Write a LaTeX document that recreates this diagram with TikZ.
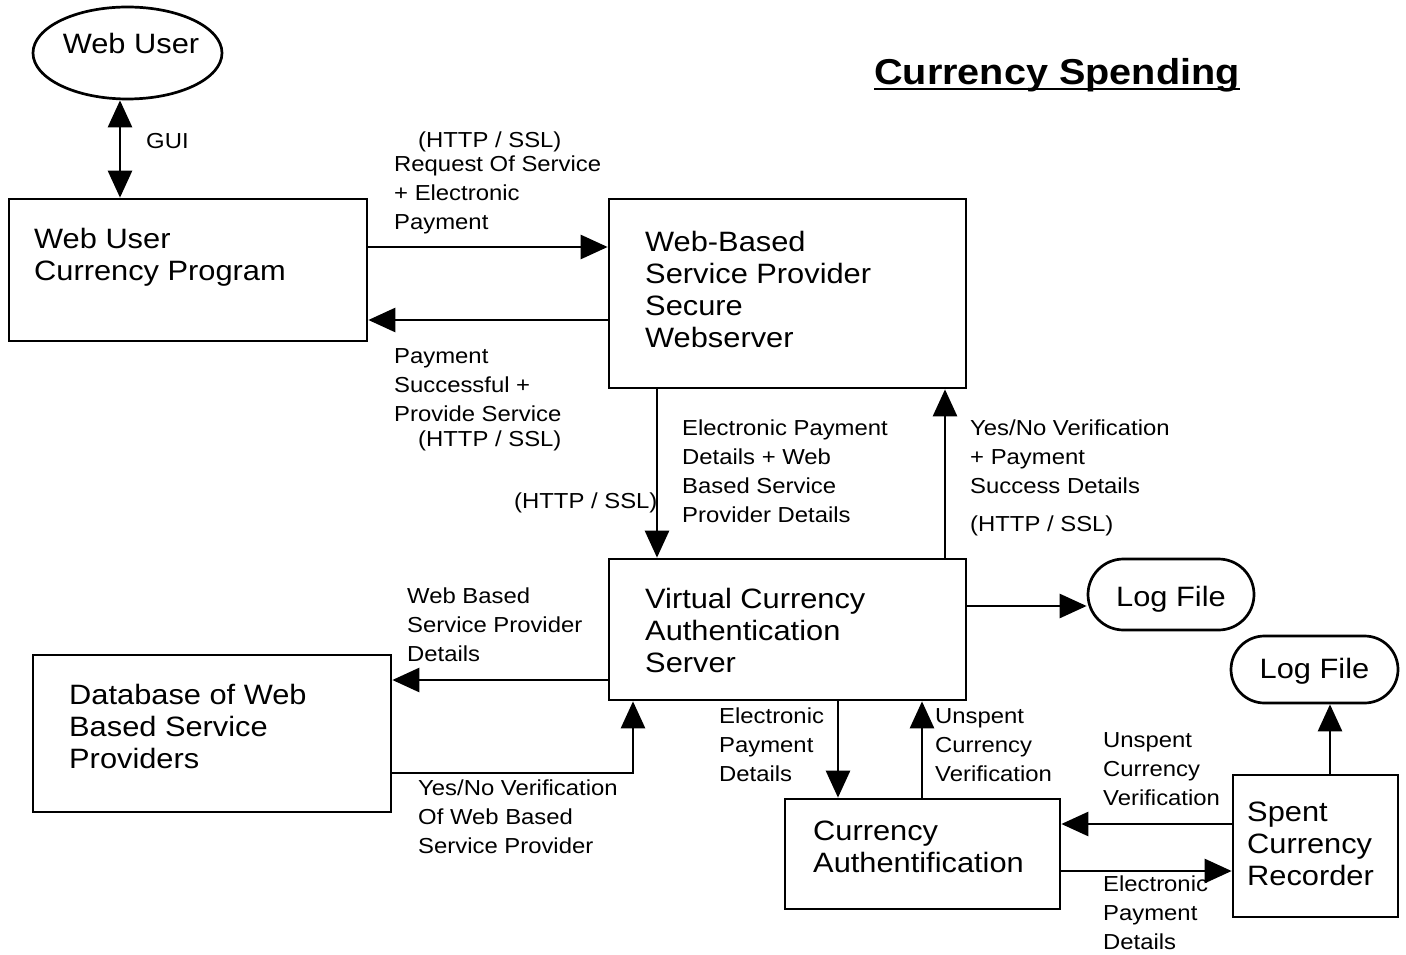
\documentclass[tikz,border=0pt]{standalone}
\usepackage{fontspec}
\setmainfont{Liberation Sans}[FakeStretch=1.1]
\usetikzlibrary{arrows.meta,shapes.geometric,shapes.misc}
\newcommand\lblfont{\fontsize{21.7}{29}\selectfont}
\newcommand\bxfont{\fontsize{28}{32}\selectfont}
\newcommand\ttlfont{\fontsize{36}{40}\selectfont\bfseries}
\tikzset{
  box/.style={draw, line width=2.7pt, rectangle, inner sep=0pt},
  bxtxt/.style={anchor=north west, inner sep=0pt, align=left, font=\bxfont, execute at begin node=\strut, yshift=-2pt},
  lbl/.style={anchor=north west, inner sep=0pt, align=left, font=\lblfont, execute at begin node=\strut, yshift=-4pt},
  arr/.style={-{Triangle[length=27pt,width=24pt]}, line width=2.7pt},
  dbl/.style={{Triangle[length=27pt,width=24pt]}-{Triangle[length=27pt,width=24pt]}, line width=2.7pt},
  logf/.style={draw, line width=2.7pt, rounded rectangle, font=\bxfont, text height=20pt, text depth=0pt, inner sep=0pt}
}
\begin{document}
\begin{tikzpicture}[x=1pt,y=-1pt]
\useasboundingbox (0,0) rectangle (1406,955);
\fill[white] (0,0) rectangle (1406,955);

% title
\node[font=\ttlfont, anchor=base, inner sep=0pt] (title) at (1057,85) {Currency Spending};
\draw[line width=2pt] ([yshift=-4pt]title.base west) -- ([yshift=-4pt]title.base east);

% shapes
\node[draw, line width=2.7pt, ellipse, minimum width=189pt, minimum height=92pt, inner sep=0pt] (eu) at (127.5,53) {};
\node[font=\bxfont, inner sep=0pt, text height=20pt, text depth=0pt] (eut) at (131,44) {Web User};

\node[box, minimum width=358pt, minimum height=142pt] (b1) at (188,270) {};
\node[bxtxt] (b1t) at (34,226) {Web User\\Currency Program};

\node[box, minimum width=357pt, minimum height=189pt] (b2) at (787.5,293.5) {};
\node[bxtxt] (b2t) at (645,229) {Web-Based\\Service Provider\\Secure\\Webserver};

\node[box, minimum width=357pt, minimum height=141pt] (b3) at (787.5,629.5) {};
\node[bxtxt] (b3t) at (645,586) {Virtual Currency\\Authentication\\Server};

\node[box, minimum width=358pt, minimum height=157pt] (b4) at (212,733.5) {};
\node[bxtxt] (b4t) at (69,682) {Database of Web\\Based Service\\Providers};

\node[box, minimum width=275pt, minimum height=110pt] (b5) at (922.5,854) {};
\node[bxtxt] (b5t) at (813,819) {Currency\\Authentification};

\node[box, minimum width=165pt, minimum height=142pt] (b6) at (1315.5,846) {};
\node[bxtxt] (b6t) at (1247,800) {Spent\\Currency\\Recorder};

\node[logf, minimum width=166pt, minimum height=71pt, text height=23pt] (log1) at (1171,594.5) {Log File};
\node[logf, minimum width=167pt, minimum height=67pt, text height=17pt] (log2) at (1314.5,669.5) {Log File};

% helper coordinates
\coordinate (xg) at (120,0);
\coordinate (ya) at (0,247);
\coordinate (yb) at (0,320);
\coordinate (xc) at (657,0);
\coordinate (xd) at (945,0);
\coordinate (ye) at (0,606);
\coordinate (yf) at (0,680);
\coordinate (yg) at (0,773);
\coordinate (xh) at (633,0);
\coordinate (xi) at (838,0);
\coordinate (xj) at (922,0);
\coordinate (yk) at (0,824);
\coordinate (yl) at (0,871);
\coordinate (xm) at (1330,0);

% connectors
\draw[dbl] (eu.south -| xg) -- (b1.north -| xg);
\draw[arr] (b1.east |- ya) -- (b2.west |- ya);
\draw[arr] (b2.west |- yb) -- (b1.east |- yb);
\draw[arr] (b2.south -| xc) -- (b3.north -| xc);
\draw[arr] (b3.north -| xd) -- (b2.south -| xd);
\draw[arr] (b3.east |- ye) -- (log1.west |- ye);
\draw[arr] (b3.west |- yf) -- (b4.east |- yf);
\draw[arr] (b4.east |- yg) -- (xh |- yg) -- (b3.south -| xh);
\draw[arr] (b3.south -| xi) -- (b5.north -| xi);
\draw[arr] (b5.north -| xj) -- (b3.south -| xj);
\draw[arr] (b6.west |- yk) -- (b5.east |- yk);
\draw[arr] (b5.east |- yl) -- (b6.west |- yl);
\draw[arr] (b6.north -| xm) -- (log2.south -| xm);

% labels
\node[lbl] (lgui) at (146,124) {GUI};
\node[lbl] (l1a) at (418,123) {(HTTP / SSL)};
\node[lbl] (l1b) at (394,152) {Request Of Service\\+ Electronic\\Payment};
\node[lbl] (l2a) at (394,344) {Payment\\Successful +\\Provide Service};
\node[lbl] (l2b) at (418,422) {(HTTP / SSL)};
\node[lbl] (l3) at (514,484) {(HTTP / SSL)};
\node[lbl] (l4) at (682,416) {Electronic Payment\\Details + Web\\Based Service\\Provider Details};
\node[lbl] (l5a) at (970,416) {Yes/No Verification\\+ Payment\\Success Details};
\node[lbl] (l5b) at (970,507) {(HTTP / SSL)};
\node[lbl] (l6) at (407,584) {Web Based\\Service Provider\\Details};
\node[lbl] (l7) at (418,776) {Yes/No Verification\\Of Web Based\\Service Provider};
\node[lbl] (l8) at (719,704) {Electronic\\Payment\\Details};
\node[lbl] (l9) at (935,704) {Unspent\\Currency\\Verification};
\node[lbl] (l10) at (1103,728) {Unspent\\Currency\\Verification};
\node[lbl] (l11) at (1103,872) {Electronic\\Payment\\Details};
\end{tikzpicture}
\end{document}
